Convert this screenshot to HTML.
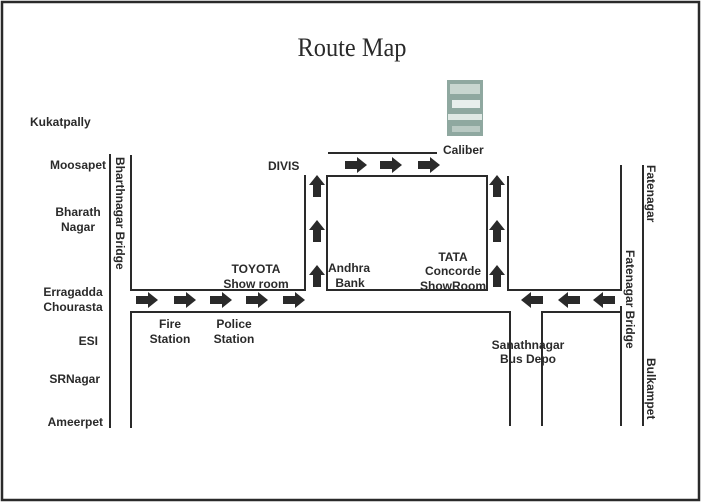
<!DOCTYPE html>
<html><head><meta charset="utf-8"><style>
html,body{margin:0;padding:0;background:#fff;}
svg{display:block;}
text{font-family:"Liberation Sans",Arial,sans-serif;font-weight:bold;font-size:12px;fill:#2a2a2a;}
</style></head><body>
<svg width="704" height="504" viewBox="0 0 704 504" xmlns="http://www.w3.org/2000/svg">
<defs>
<path id="ar" d="M-11,-4 H1 V-8 L11,0 L1,8 V4 H-11 Z" fill="#2a2a2a"/>
</defs>
<rect x="2" y="2" width="697" height="498" fill="none" stroke="#2a2a2a" stroke-width="2.5"/>
<text x="352" y="56" text-anchor="middle" textLength="109" lengthAdjust="spacingAndGlyphs" style="font-family:'Liberation Serif',serif;font-weight:normal;font-size:26px">Route Map</text>
<g stroke="#2a2a2a" stroke-width="2" fill="none">
<line x1="110" y1="154" x2="110" y2="428"/>
<polyline points="131,155 131,290 305,290 305,175"/>
<polyline points="131,428 131,312 510,312 510,426"/>
<line x1="328" y1="153" x2="437" y2="153"/>
<rect x="327" y="176" width="160" height="114"/>
<polyline points="508,176 508,290 621,290 621,165"/>
<polyline points="542,426 542,312 621,312"/>
<line x1="621" y1="306" x2="621" y2="426"/>
<line x1="643" y1="165" x2="643" y2="426"/>
</g>
<g>
<use href="#ar" x="147" y="300"/><use href="#ar" x="185" y="300"/><use href="#ar" x="221" y="300"/><use href="#ar" x="257" y="300"/><use href="#ar" x="294" y="300"/>
<use href="#ar" x="356" y="165"/><use href="#ar" x="391" y="165"/><use href="#ar" x="429" y="165"/>
<use href="#ar" transform="translate(317,186) rotate(-90)"/><use href="#ar" transform="translate(317,231) rotate(-90)"/><use href="#ar" transform="translate(317,276) rotate(-90)"/>
<use href="#ar" transform="translate(497,186) rotate(-90)"/><use href="#ar" transform="translate(497,231) rotate(-90)"/><use href="#ar" transform="translate(497,276) rotate(-90)"/>
<use href="#ar" transform="translate(532,300) rotate(180)"/><use href="#ar" transform="translate(569,300) rotate(180)"/><use href="#ar" transform="translate(604,300) rotate(180)"/>
</g>
<g>
<rect x="447" y="80" width="36" height="56" fill="#8fa8a0"/>
<rect x="450" y="84" width="30" height="10" fill="#c8d6d0"/>
<rect x="452" y="100" width="28" height="8" fill="#e8eeec"/>
<rect x="448" y="114" width="34" height="6" fill="#dfe8e4"/>
<rect x="452" y="126" width="28" height="6" fill="#b9c9c3"/>
</g>
<text x="30" y="126">Kukatpally</text>
<text x="106" y="169" text-anchor="end">Moosapet</text>
<text x="78" y="216" text-anchor="middle">Bharath</text>
<text x="78" y="231" text-anchor="middle">Nagar</text>
<text x="73" y="296" text-anchor="middle">Erragadda</text>
<text x="73" y="311" text-anchor="middle">Chourasta</text>
<text x="98" y="345" text-anchor="end">ESI</text>
<text x="100" y="383" text-anchor="end">SRNagar</text>
<text x="103" y="426" text-anchor="end">Ameerpet</text>
<text transform="translate(116,157) rotate(90)">Bharthnagar Bridge</text>
<text x="268" y="170">DIVIS</text>
<text x="256" y="273" text-anchor="middle">TOYOTA</text>
<text x="256" y="288" text-anchor="middle">Show room</text>
<text x="170" y="328" text-anchor="middle">Fire</text>
<text x="170" y="343" text-anchor="middle">Station</text>
<text x="234" y="328" text-anchor="middle">Police</text>
<text x="234" y="343" text-anchor="middle">Station</text>
<text x="328" y="272">Andhra</text>
<text x="350" y="287" text-anchor="middle">Bank</text>
<text x="453" y="261" text-anchor="middle">TATA</text>
<text x="453" y="275" text-anchor="middle">Concorde</text>
<text x="453" y="290" text-anchor="middle">ShowRoom</text>
<text x="443" y="154">Caliber</text>
<text x="528" y="349" text-anchor="middle">Sanathnagar</text>
<text x="528" y="363" text-anchor="middle">Bus Depo</text>
<text transform="translate(647,165) rotate(90)">Fatenagar</text>
<text transform="translate(626,250) rotate(90)">Fatenagar Bridge</text>
<text transform="translate(647,358) rotate(90)">Bulkampet</text>
</svg>
</body></html>
